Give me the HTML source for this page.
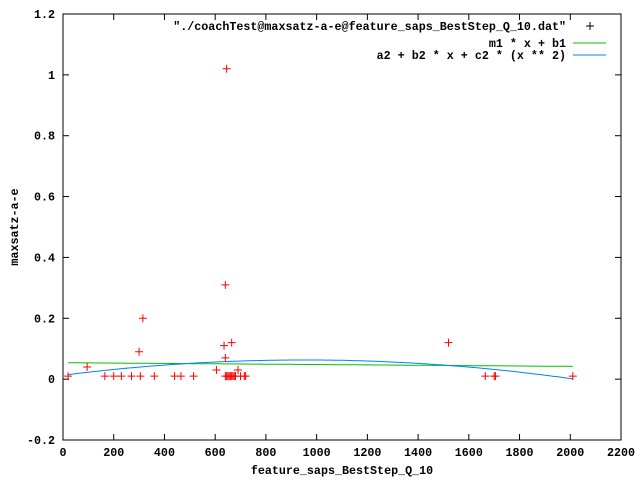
<!DOCTYPE html>
<html><head><meta charset="utf-8"><style>
body{margin:0;background:#fff}
svg{display:block;font-family:"Liberation Mono","DejaVu Sans Mono",monospace;font-size:11.7px;font-weight:bold}
</style></head><body>
<svg id="c" width="640" height="480"></svg>
<script>
const xTicks=[0,200,400,600,800,1000,1200,1400,1600,1800,2000,2200];
const yTicks=[-0.2,0,0.2,0.4,0.6,0.8,1,1.2];
const yTickLabels=["-0.2","0","0.2","0.4","0.6","0.8","1","1.2"];
const ptX=[20,95,165,200,230,270,305,360,440,465,515,300,315,605,635,640,645,650,655,660,665,670,675,680,690,700,715,720,640,665,640,645,1520,1665,1700,1705,2010];
const ptY=[0.01,0.04,0.01,0.01,0.01,0.01,0.01,0.01,0.01,0.01,0.01,0.09,0.2,0.03,0.11,0.01,0.01,0.01,0.01,0.01,0.01,0.01,0.01,0.01,0.03,0.01,0.01,0.01,0.07,0.12,0.31,1.02,0.12,0.01,0.01,0.01,0.01];
const linCoef=[-6e-6,0.054];
const quadCoef=[0.0129,1.055e-4,-5.55e-8];
const fitRange=[20,2010];
const L=63,R=621,T=14,B=440,NS="http://www.w3.org/2000/svg";
const sx=v=>L+(v-0)/(2200-0)*(R-L);
const sy=v=>B-(v+0.2)/(1.4)*(B-T);
const svg=document.getElementById('c');
function el(t,a,p){const e=document.createElementNS(NS,t);for(const k in a)e.setAttribute(k,a[k]);(p||svg).appendChild(e);return e;}
const frame=el('rect',{x:L,y:T,width:R-L,height:B-T,fill:'none',stroke:'#000'});


xTicks.forEach(v=>{const x=sx(v);
 el('line',{x1:x,y1:B,x2:x,y2:B-6,stroke:'#000'});el('line',{x1:x,y1:T,x2:x,y2:T+6,stroke:'#000'});
 const t=el('text',{x:x,y:B+16,'text-anchor':'middle'});t.textContent=v;
 
 });
yTicks.forEach((v,i)=>{const y=sy(v);
 el('line',{x1:L,y1:y,x2:L+6,y2:y,stroke:'#000'});el('line',{x1:R,y1:y,x2:R-6,y2:y,stroke:'#000'});
 const t=el('text',{x:L-8,y:y+4,'text-anchor':'end'});t.textContent=yTickLabels[i];
 
 });
const xt=el('text',{x:(L+R)/2,y:474,'text-anchor':'middle'});xt.textContent='feature_saps_BestStep_Q_10';


const yt=el('text',{x:0,y:0,'text-anchor':'middle',transform:'translate(18,'+(T+B)/2+') rotate(-90)'});yt.textContent='maxsatz-a-e';


function curve(f){let d='';for(let i=0;i<=100;i++){const x=fitRange[0]+(fitRange[1]-fitRange[0])*i/100;d+=(i?'L':'M')+sx(x).toFixed(1)+','+sy(f(x)).toFixed(1);}return d;}
const lin=el('path',{d:curve(x=>linCoef[0]*x+linCoef[1]),fill:'none',stroke:'#00c000'});


const quad=el('path',{d:curve(x=>quadCoef[0]+quadCoef[1]*x+quadCoef[2]*x*x),fill:'none',stroke:'#0080ff'});


ptX.forEach((v,i)=>{const x=sx(v),y=sy(ptY[i]);
 const p=el('path',{d:`M${x-4},${y}H${x+4}M${x},${y-4}V${y+4}`,stroke:'#f00'});
 
 });
const lg=[['"./coachTest@maxsatz-a-e@feature_saps_BestStep_Q_10.dat"',null,26],['m1 * x + b1','#00c000',43],['a2 + b2 * x + c2 * (x ** 2)','#0080ff',55]];
lg.forEach((e,i)=>{const t=el('text',{x:566,y:e[2]+4,'text-anchor':'end'});t.textContent=e[0];
 
 
 if(e[1])el('line',{x1:573,y1:e[2],x2:606,y2:e[2],stroke:e[1]});
 else el('path',{d:`M586,${e[2]}h8M590,${e[2]-4}v8`,stroke:'#000'});});
</script>
</body></html>
